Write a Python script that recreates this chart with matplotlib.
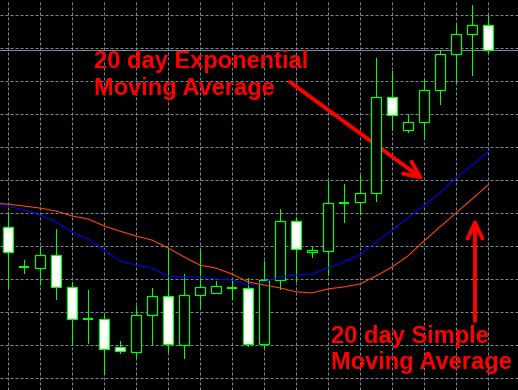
import matplotlib.pyplot as plt
import numpy as np

# daily candles, oldest first
opens = [145.8, 133.6, 133.3, 137.3, 127.6, 117.9, 117.9, 109.4, 107.9, 119.1,
         124.8, 110.0, 125.2, 125.8, 127.3, 127.3, 110.3, 129.7, 147.6, 138.2,
         138.5, 153.0, 153.3, 156.1, 185.2, 175.2, 177.6, 187.3, 198.2, 204.2, 207.0]
highs = [150.3, 135.8, 139.7, 145.2, 129.1, 126.7, 119.1, 111.2, 121.8, 127.3,
         139.4, 131.5, 138.8, 129.4, 130.3, 130.3, 135.5, 151.2, 148.8, 139.7,
         159.7, 158.8, 161.5, 197.0, 193.0, 180.0, 190.3, 199.4, 207.0, 213.0, 210.0]
lows = [127.6, 131.8, 128.5, 123.9, 110.0, 110.6, 101.2, 107.6, 106.1, 110.0,
        107.9, 106.1, 121.5, 125.8, 123.9, 109.7, 109.1, 127.0, 129.4, 136.7,
        131.2, 147.3, 149.7, 153.6, 175.2, 174.5, 172.7, 183.0, 189.7, 191.8, 198.5]
closes = [138.2, 133.6, 137.3, 127.6, 117.9, 117.9, 108.8, 108.2, 119.1, 124.8,
          110.3, 125.2, 127.6, 127.9, 127.3, 110.3, 129.7, 147.6, 139.1, 138.8,
          153.0, 153.0, 156.1, 185.2, 179.7, 177.6, 187.3, 198.2, 204.2, 207.0, 199.4]

# moving averages, starting one bar before the first candle
ema20 = [153.0, 152.1, 150.9, 149.4, 147.3, 144.2, 142.1, 138.8, 135.5, 134.2,
         133.3, 130.9, 130.6, 130.6, 130.0, 129.7, 128.2, 129.1, 130.6, 131.2,
         131.5, 133.3, 135.2, 137.3, 141.2, 144.8, 148.5, 152.4, 156.1, 160.6,
         164.5, 168.5]
sma20 = [153.0, 152.7, 152.1, 151.5, 150.6, 149.1, 148.2, 146.1, 144.5, 143.0,
         141.8, 139.4, 136.7, 134.2, 133.3, 131.5, 129.1, 128.2, 127.3, 126.1,
         125.8, 127.0, 127.6, 128.5, 130.9, 133.6, 137.0, 141.5, 145.8, 150.0,
         154.2, 158.5]

W, H = 518, 390
PX = 72 / 100  # one pixel in points
GREEN = '#00ff00'
GRID = '#778899'


def fig_pos(x, y):
    return x / W, 1 - y / H


fig = plt.figure(figsize=(W / 100, H / 100), dpi=100, facecolor='black')
ax = fig.add_axes([0, 0, 1, 1], facecolor='black')

n = len(opens)
x = np.arange(n)
o = np.array(opens)
c = np.array(closes)

# wicks
ax.vlines(x, lows, highs, color=GREEN, lw=PX, zorder=3, antialiased=False)

# bodies: bull hollow (black), bear white
up = c > o
down = c < o
ax.bar(x[up], (c - o)[up], bottom=o[up], width=0.58, facecolor='black',
       edgecolor=GREEN, lw=PX * 1.2, zorder=4)
ax.bar(x[down], (o - c)[down], bottom=c[down], width=0.58, facecolor='white',
       edgecolor=GREEN, lw=PX * 1.2, zorder=4)
doji = c == o
ax.hlines(c[doji], x[doji] - 0.33, x[doji] + 0.33, color=GREEN, lw=PX * 2, zorder=4)

# moving averages
xm = np.arange(-1, n)
ax.plot(xm, ema20, color='#0000ff', lw=PX * 1.1, zorder=5)
ax.plot(xm, sma20, color='#ff4500', lw=PX * 1.1, zorder=5)

# last price line
ax.axhline(closes[-1], color=GRID, lw=PX, zorder=2)

ax.set_xlim(-0.5, 31.875)
ax.set_ylim(96.36, 214.55)
ax.set_xticks(np.arange(0, 31, 2))
ax.set_yticks(np.arange(100, 211, 10))
ax.tick_params(length=0, labelbottom=False, labelleft=False)
ax.grid(True, color=GRID, lw=PX, linestyle=(0, (3, 2)), zorder=1)
for s in ax.spines.values():
    s.set_visible(False)

font = dict(color='#ff0000', fontsize=17, fontweight='bold',
            family='Liberation Sans', va='baseline', ha='left')
fig.text(*fig_pos(94, 68), '20 day Exponential', **font)
fig.text(*fig_pos(94, 95), 'Moving Average', **font)
fig.text(*fig_pos(331, 343), '20 day Simple', **font)
fig.text(*fig_pos(331, 369), 'Moving Average', **font)

arrow = dict(arrowstyle='->,head_length=1.15,head_width=0.53', color='#ff0000',
             lw=2.8, shrinkA=0, shrinkB=0)
ax.annotate('', xy=fig_pos(424, 180), xytext=fig_pos(290, 82),
            xycoords='figure fraction', textcoords='figure fraction', arrowprops=arrow)
ax.annotate('', xy=fig_pos(475, 218), xytext=fig_pos(475, 321),
            xycoords='figure fraction', textcoords='figure fraction', arrowprops=arrow)

fig.savefig('out.png', dpi=100, facecolor='black')
